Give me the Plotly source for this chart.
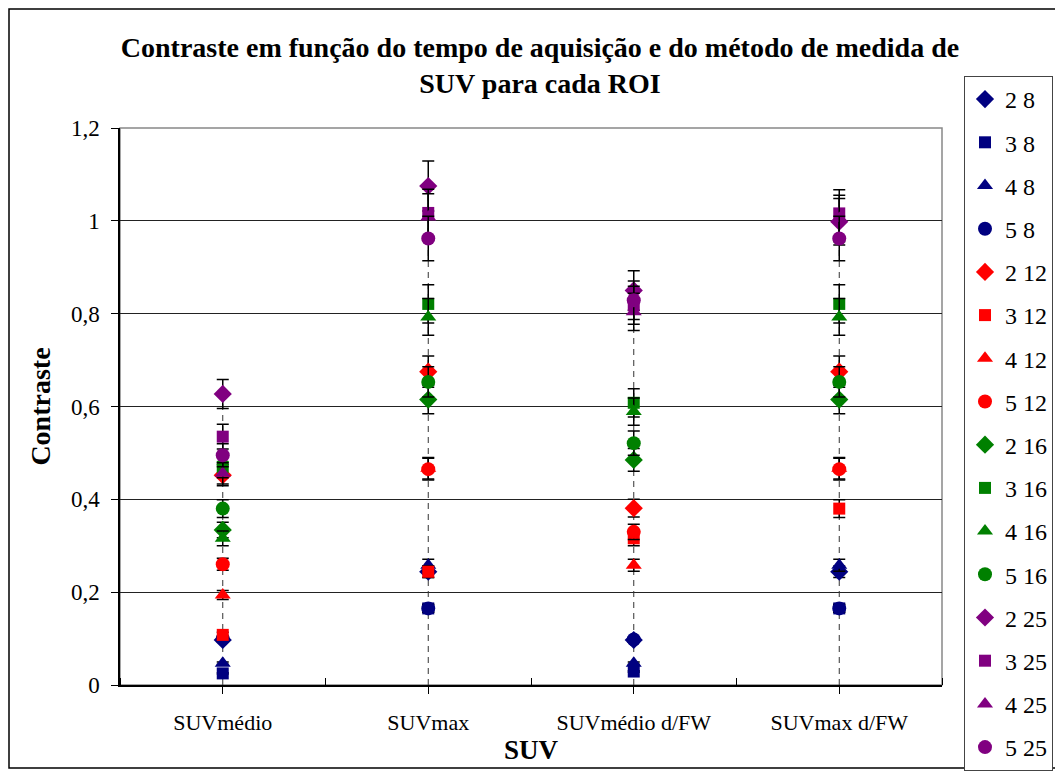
import plotly.graph_objects as go

categories = ["SUVmédio", "SUVmax", "SUVmédio d/FW", "SUVmax d/FW"]

series_names = ["2 8", "3 8", "4 8", "5 8",
                "2 12", "3 12", "4 12", "5 12",
                "2 16", "3 16", "4 16", "5 16",
                "2 25", "3 25", "4 25", "5 25"]

s_2_8 = [0.097, 0.244, 0.097, 0.244]
s_3_8 = [0.025, 0.165, 0.029, 0.165]
s_4_8 = [0.047, 0.258, 0.047, 0.258]
s_5_8 = [0.100, 0.165, 0.098, 0.165]
s_2_12 = [0.452, 0.675, 0.381, 0.675]
s_3_12 = [0.108, 0.244, 0.316, 0.380]
s_4_12 = [0.194, 0.467, 0.258, 0.467]
s_5_12 = [0.260, 0.465, 0.330, 0.465]
s_2_16 = [0.334, 0.615, 0.485, 0.615]
s_3_16 = [0.470, 0.821, 0.608, 0.821]
s_4_16 = [0.316, 0.793, 0.589, 0.793]
s_5_16 = [0.380, 0.653, 0.521, 0.653]
s_2_25 = [0.627, 1.075, 0.850, 0.998]
s_3_25 = [0.535, 1.017, 0.818, 1.016]
s_4_25 = [0.456, 1.008, 0.804, 1.005]
s_5_25 = [0.495, 0.962, 0.829, 0.962]

series_values = [s_2_8, s_3_8, s_4_8, s_5_8,
                 s_2_12, s_3_12, s_4_12, s_5_12,
                 s_2_16, s_3_16, s_4_16, s_5_16,
                 s_2_25, s_3_25, s_4_25, s_5_25]

error_percent = 5

y_tickvals = [0, 0.2, 0.4, 0.6, 0.8, 1, 1.2]
y_ticktext = ["0", "0,2", "0,4", "0,6", "0,8", "1", "1,2"]

colors = ["#000080", "#FF0000", "#008000", "#800080"]
symbols = ["diamond", "square", "triangle-up", "circle"]
sizes = [14, 12, 14, 14]

FONT = "Liberation Serif"
xpos = list(range(len(categories)))

W, H = 1055, 763  # page body has an 8px margin
L, R, T, B = 112, 121, 120, 86
PW, PH = W - L - R, H - T - B

fig = go.Figure()

# drop lines (dashed) from highest point of each category to axis
for i, x in enumerate(xpos):
    top = max(v[i] for v in series_values)
    fig.add_trace(go.Scatter(x=[x, x], y=[0, top], mode="lines",
                             line=dict(color="#333333", width=1, dash="6px,5px"),
                             showlegend=False, hoverinfo="skip"))

for k, (name, vals) in enumerate(zip(series_names, series_values)):
    c = colors[k // 4]
    sym = symbols[k % 4]
    fig.add_trace(go.Scatter(
        x=xpos, y=vals, mode="markers", name=name,
        legendgroup=name,
        marker=dict(symbol=sym, color=c, size=sizes[k % 4], line=dict(width=0)),
        error_y=dict(type="percent", value=error_percent, color="black",
                     thickness=1.5, width=6),
    ))

fig.update_layout(
    width=W, height=H,
    paper_bgcolor="white", plot_bgcolor="white",
    margin=dict(l=L, r=R, t=T, b=B, autoexpand=False),
    font=dict(family=FONT, color="black"),
    title=dict(text="<b>Contraste em função do tempo de aquisição e do método de medida de<br>SUV para cada ROI</b>",
               x=532 / W, xanchor="center", y=1 - 49 / H, yanchor="top",
               font=dict(family=FONT, size=28, color="black")),
    showlegend=True,
    legend=dict(x=(956 - L) / PW, xanchor="left",
                y=(H - B - 68) / PH, yanchor="top",
                maxheight=720,
                font=dict(family=FONT, size=24, color="black"),
                bordercolor="#444444", borderwidth=1, bgcolor="white",
                traceorder="grouped", tracegroupgap=9, itemwidth=30),
    xaxis=dict(range=[-0.5, len(categories) - 0.5], tickvals=xpos, ticktext=categories,
               showgrid=False, zeroline=False, showline=True, linecolor="black", linewidth=1.5,
               ticks="outside", ticklen=7, tickcolor="black",
               tickfont=dict(family=FONT, size=22), ticklabelstandoff=10,
               minor=dict(ticks="inside", tick0=0.5, dtick=1, ticklen=7, tickcolor="black"),
               title=dict(text="<b>SUV</b>", font=dict(family=FONT, size=27), standoff=2)),
    yaxis=dict(range=[0, 1.2], tickvals=y_tickvals, ticktext=y_ticktext,
               showgrid=True, gridcolor="#222222", gridwidth=1,
               zeroline=False, showline=True, linecolor="black", linewidth=1.5,
               ticks="outside", ticklen=7, tickcolor="black",
               tickfont=dict(family=FONT, size=23), ticklabelstandoff=7,
               title=dict(text="<b>Contraste</b>", font=dict(family=FONT, size=28), standoff=12)),
    shapes=[
        dict(type="rect", xref="paper", yref="paper", x0=0, x1=1, y0=0, y1=1,
             line=dict(color="#888888", width=1.5), layer="below"),
        dict(type="rect", xref="paper", yref="paper",
             x0=-(L - 1) / PW, x1=(1052 - L) / PW, y0=-(760 - (H - B)) / PH, y1=(H - B - 1) / PH,
             line=dict(color="black", width=1.5), layer="below"),
    ],
)

fig.write_html("out.html")
